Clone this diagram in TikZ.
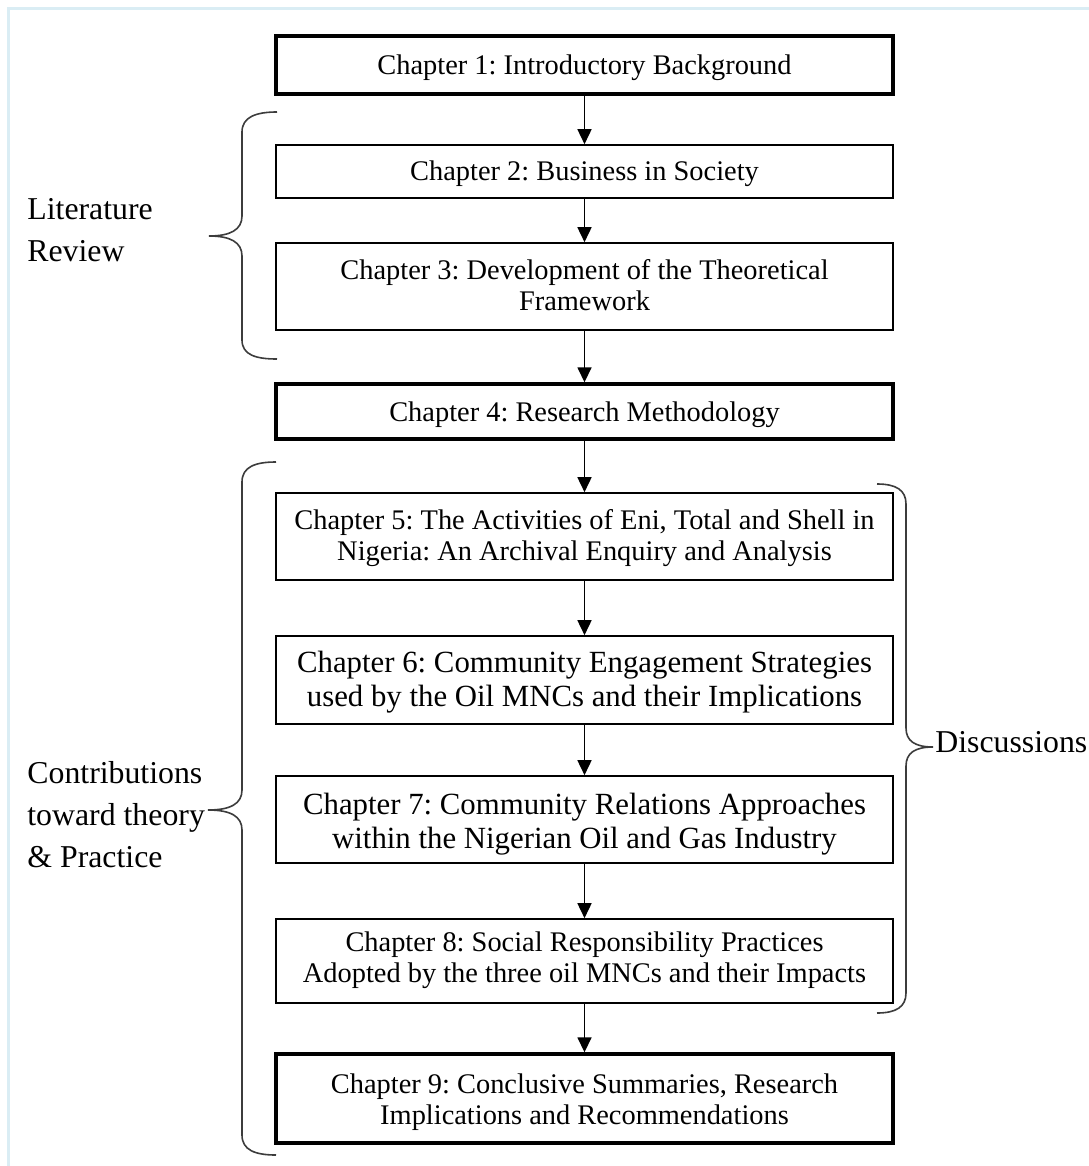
\documentclass[tikz,border=0pt]{standalone}
\usepackage{fontspec}
\setmainfont{Liberation Serif}
\usetikzlibrary{arrows.meta}
\frenchspacing

\definecolor{framecol}{RGB}{218,237,244}
\definecolor{bracecol}{RGB}{60,60,60}

\tikzset{
  chapter/.style={draw, line width=0.8pt, minimum width=308.5pt, inner sep=0pt},
  keychapter/.style={chapter, line width=1.7pt},
  chaptext/.style={align=center, inner sep=0pt, font=\fontsize{14.2}{15.5}\selectfont},
  widetext/.style={chaptext, font=\fontsize{15.4}{17}\selectfont},
  flow/.style={line width=0.8pt, -{Triangle[width=7pt,length=7.5pt]}},
  brace/.style={draw=bracecol, line width=0.8pt},
  sidelabel/.style={anchor=west, align=left, inner sep=0pt,
    font=\fontsize{15.9}{21}\selectfont}
}

\begin{document}
\begin{tikzpicture}[x=0.5pt, y=-0.5pt]
  \useasboundingbox (0,0) rectangle (1088,1166);

  % page frame
  \draw[framecol, line width=1.1pt] (8.5,1170) -- (8.5,8.5) -- (1092,8.5);

  % chapter boxes
  \node[keychapter, minimum height=29pt] (c1) at (584.5,65) {};
  \node[chapter, minimum height=26.5pt] (c2) at (584.5,171.5) {};
  \node[chapter, minimum height=43.5pt] (c3) at (584.5,286.5) {};
  \node[keychapter, minimum height=27.5pt] (c4) at (584.5,411.5) {};
  \node[chapter, minimum height=43.5pt] (c5) at (584.5,536.5) {};
  \node[chapter, minimum height=44pt] (c6) at (584.5,680) {};
  \node[chapter, minimum height=43.5pt] (c7) at (584.5,819.5) {};
  \node[chapter, minimum height=42pt] (c8) at (584.5,961) {};
  \node[keychapter, minimum height=44.5pt] (c9) at (584.5,1098.5) {};

  % chapter titles
  \node[chaptext] (t1) at (584.5,68) {Chapter 1: Introductory Background};
  \node[chaptext] (t2) at (584.5,173.5) {Chapter 2: Business in Society};
  \node[chaptext] (t3) at (584.5,285.5) {Chapter 3: Development of the Theoretical\\Framework};
  \node[chaptext] (t4) at (584.5,414.5) {Chapter 4: Research Methodology};
  \node[chaptext] (t5) at (584.5,538.5) {Chapter 5: The Activities of Eni, Total and Shell in\\Nigeria: An Archival Enquiry and Analysis};
  \node[widetext] (t6) at (584.5,682.5) {Chapter 6: Community Engagement Strategies\\used by the Oil MNCs and their Implications};
  \node[widetext] (t7) at (584.5,824) {Chapter 7: Community Relations Approaches\\within the Nigerian Oil and Gas Industry};
  \node[chaptext] (t8) at (584.5,960) {Chapter 8: Social Responsibility Practices\\Adopted by the three oil MNCs and their Impacts};
  \node[chaptext] (t9) at (584.5,1102) {Chapter 9: Conclusive Summaries, Research\\Implications and Recommendations};

  % reading order
  \foreach \a/\b in {c1/c2, c2/c3, c3/c4, c4/c5, c5/c6, c6/c7, c7/c8, c8/c9}
    \draw[flow] (\a) -- (\b);

  % brace: literature review
  \coordinate (litTip) at (209,236);
  \path[brace] (277,112) .. controls (256,112) and (242,117) .. (242,132)
    -- (242,216) .. controls (242,230) and (230,236) .. (litTip)
    .. controls (230,236) and (242,242) .. (242,256)
    -- (242,340) .. controls (242,355) and (256,359) .. (277,359);
  \node[sidelabel] (lit) at (27,230) {Literature\\Review};

  % brace: contributions
  \coordinate (conTip) at (208,810);
  \path[brace] (276,462) .. controls (255,462) and (242,467) .. (242,482)
    -- (242,790) .. controls (242,804) and (230,810) .. (conTip)
    .. controls (230,810) and (242,816) .. (242,830)
    -- (242,1135) .. controls (242,1150) and (255,1155) .. (276,1155);
  \node[sidelabel] (con) at (27,815) {Contributions\\toward theory\\\& Practice};

  % brace: discussions
  \coordinate (disTip) at (933,747);
  \path[brace] (877,484) .. controls (896,484) and (906,490) .. (906,504)
    -- (906,728) .. controls (906,741) and (915,747) .. (disTip)
    .. controls (915,747) and (906,753) .. (906,766)
    -- (906,993) .. controls (906,1007) and (896,1013) .. (877,1013);
  \node[sidelabel] (dis) at (935,742) {Discussions};
\end{tikzpicture}
\end{document}
